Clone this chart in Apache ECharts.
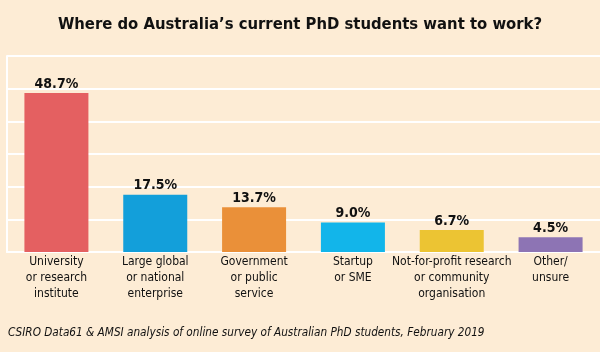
<!DOCTYPE html>
<html lang="en">
<head>
<meta charset="utf-8">
<title>PhD students work</title>
<script src="https://cdn.jsdelivr.net/npm/echarts@6/dist/echarts.min.js"></script>
<style>
  html, body { margin:0; padding:0; background:#fdecd5; }
  #chart { width:600px; height:352px; }
</style>
</head>
<body>
<div id="chart"></div>
<script>
var categories = ['University\nor research\ninstitute', 'Large global\nor national\nenterprise', 'Government\nor public\nservice',
  'Startup\nor SME', 'Not-for-profit research\nor community\norganisation', 'Other/\nunsure'];
var values = [48.7, 17.5, 13.7, 9.0, 6.7, 4.5];
var barColors = ['#e46061', '#139fda', '#ea9039', '#12b5ea', '#ecc433', '#8d74b4'];

var FONT = "'Liberation Sans Narrow', 'DejaVu Sans Condensed', 'Liberation Sans', sans-serif";

var chart = echarts.init(document.getElementById('chart'));
chart.setOption({
  backgroundColor: '#fdecd5',
  animation: false,
  title: [{
    text: 'Where do Australia\u2019s current PhD students want to work?',
    left: 'center', top: 11,
    textStyle: { fontFamily: FONT, fontSize: 16.5, fontWeight: 'bold', color: '#111' }
  }, {
    text: 'CSIRO Data61 & AMSI analysis of online survey of Australian PhD students, February 2019',
    left: 3, top: 322,
    textStyle: { fontFamily: FONT, fontSize: 11.7, fontStyle: 'italic', fontWeight: 'normal', color: '#111' }
  }],
  grid: { left: 7, right: 0, top: 56, bottom: 100 },
  xAxis: {
    type: 'category',
    data: categories,
    axisLine: { show: true, lineStyle: { color: '#ffffff', width: 2 } },
    axisTick: { show: false },
    axisLabel: { fontFamily: FONT, fontSize: 12, color: '#111', lineHeight: 16, margin: 2, interval: 0 }
  },
  yAxis: {
    type: 'value', min: 0, max: 60, interval: 10,
    axisLabel: { show: false },
    axisTick: { show: false },
    axisLine: { show: true, lineStyle: { color: '#ffffff', width: 2 } },
    splitLine: { lineStyle: { color: '#ffffff', width: 2 } }
  },
  series: [{
    type: 'bar',
    barWidth: 64,
    data: values.map(function (v, i) {
      return { value: v, itemStyle: { color: barColors[i] } };
    }),
    label: {
      show: true, position: 'top', distance: 2,
      fontFamily: FONT, fontSize: 14, fontWeight: 'bold', color: '#111',
      formatter: function (p) { return p.value.toFixed(1) + '%'; }
    }
  }]
});
</script>
</body>
</html>
